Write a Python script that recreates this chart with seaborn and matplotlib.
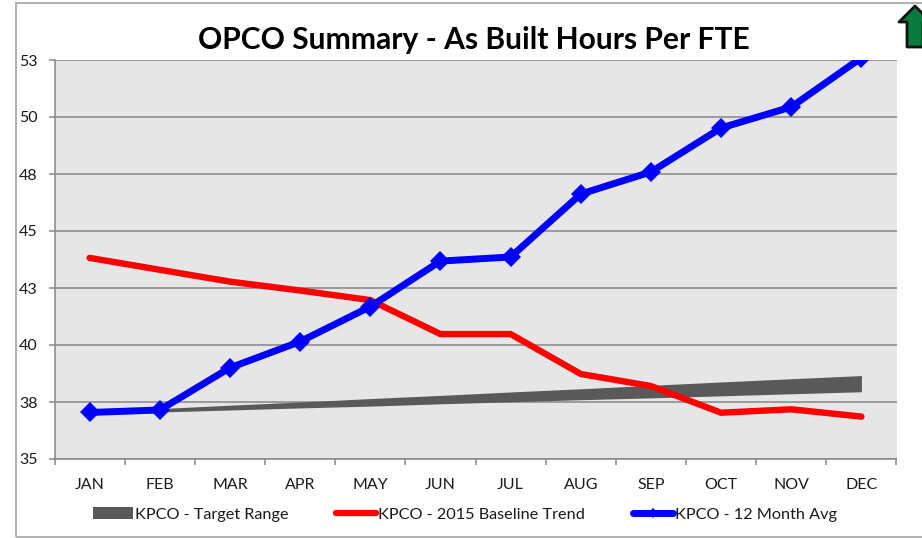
import numpy as np
import pandas as pd
import matplotlib
matplotlib.use("Agg")
import matplotlib.pyplot as plt
import seaborn as sns
from matplotlib.lines import Line2D
from matplotlib.patches import Patch, Polygon, Rectangle

months = ["JAN", "FEB", "MAR", "APR", "MAY", "JUN", "JUL", "AUG", "SEP", "OCT", "NOV", "DEC"]
target_low = [37.04, 37.06, 37.15, 37.24, 37.32, 37.42, 37.51, 37.60, 37.68, 37.77, 37.86, 37.95]
target_high = [37.06, 37.21, 37.36, 37.50, 37.65, 37.79, 37.94, 38.08, 38.23, 38.38, 38.52, 38.66]
baseline = [43.82, 43.30, 42.78, 42.39, 41.97, 40.48, 40.48, 38.73, 38.20, 37.03, 37.18, 36.86]
avg_12m = [37.04, 37.15, 39.00, 40.15, 41.68, 43.68, 43.86, 46.62, 47.59, 49.52, 50.44, 52.60]
y_ticks = [35, 37.5, 40, 42.5, 45, 47.5, 50, 52.5]
y_labels = ["35", "38", "40", "43", "45", "48", "50", "53"]

sns.set_style("white")
plt.rcParams["font.family"] = ["Lato", "DejaVu Sans"]

W, H = 922, 538
GRAY = "#868686"

fig = plt.figure(figsize=(W / 100, H / 100), dpi=100)
ax = fig.add_axes([54.5 / W, 1 - 459 / H, (896.5 - 54.5) / W, (459 - 60) / H])
ax.set_facecolor("#e6e6e6")

df = pd.DataFrame({"month": months, "baseline": baseline, "avg": avg_12m})

# target band first, then the two lines over it
ax.fill_between(months, target_low, target_high, color="#595959", lw=0, zorder=2)
sns.lineplot(data=df, x="month", y="baseline", color="#ff0000", lw=4.6, sort=False,
             solid_joinstyle="miter", solid_capstyle="round", ax=ax, zorder=3)
sns.lineplot(data=df, x="month", y="avg", color="#0000ff", lw=5, sort=False, marker="D",
             markersize=10.5, markeredgewidth=0, solid_joinstyle="miter", ax=ax, zorder=4)

ax.set_xlim(-0.5, 11.5)
ax.set_ylim(35, 52.5)
ax.set_xlabel("")
ax.set_ylabel("")
ax.set_yticks(y_ticks)
ax.set_yticklabels(y_labels)
ax.set_xticks(range(len(months)))
ax.set_xticks(np.arange(-0.5, 12), minor=True)
ax.yaxis.grid(True, color=GRAY, lw=1.1, zorder=1)
ax.set_axisbelow(True)
ax.xaxis.grid(False)
for name, spine in ax.spines.items():
    spine.set_visible(name in ("left", "bottom"))
    spine.set_color(GRAY)
    spine.set_linewidth(1.1)
ax.tick_params(axis="y", left=True, length=4, width=1.1, color=GRAY, pad=8, labelsize=11.5, labelcolor="#1a1a1a")
ax.tick_params(axis="x", which="major", bottom=False, length=0, pad=14, labelsize=11.5, labelcolor="#1a1a1a")
ax.tick_params(axis="x", which="minor", bottom=True, length=4, width=1.1, color=GRAY)

fig.text(474 / W, 1 - 39.5 / H, "OPCO Summary - As Built Hours Per FTE", ha="center", va="center",
         fontsize=21.6, fontweight="bold", color="black")

handles = [
    Patch(color="#595959", lw=0),
    Line2D([], [], color="#ff0000", lw=4.6, solid_capstyle="round"),
    Line2D([], [], color="#0000ff", lw=5, marker="D", markersize=5, markeredgewidth=0, solid_capstyle="round"),
]
fig.legend(handles, ["KPCO - Target Range", "KPCO - 2015 Baseline Trend", "KPCO - 12 Month Avg"],
           loc="center", bbox_to_anchor=(465 / W, 1 - 514.5 / H), ncol=3, frameon=False, fontsize=11.7,
           handlelength=2.45, handletextpad=0.12, columnspacing=2.96, labelcolor="#1a1a1a")

# outer chart frame and the status arrow clipped by the right edge
frame = Rectangle((15.5 / W, 1 - 537 / H), 1000 / W, 534 / H, transform=fig.transFigure,
                  fill=False, edgecolor="#b0b0b0", lw=1.4, zorder=-1)
fig.add_artist(frame)
arrow_px = [(899, 22), (915, 6), (931, 22), (923, 22), (923, 47), (907, 47), (907, 22)]
arrow = Polygon([(x / W, 1 - y / H) for x, y in arrow_px], closed=True, transform=fig.transFigure,
                facecolor="#0b7a3e", edgecolor="#111111", lw=2, joinstyle="round")
fig.add_artist(arrow)

fig.savefig("out.png", dpi=100, facecolor="white")
